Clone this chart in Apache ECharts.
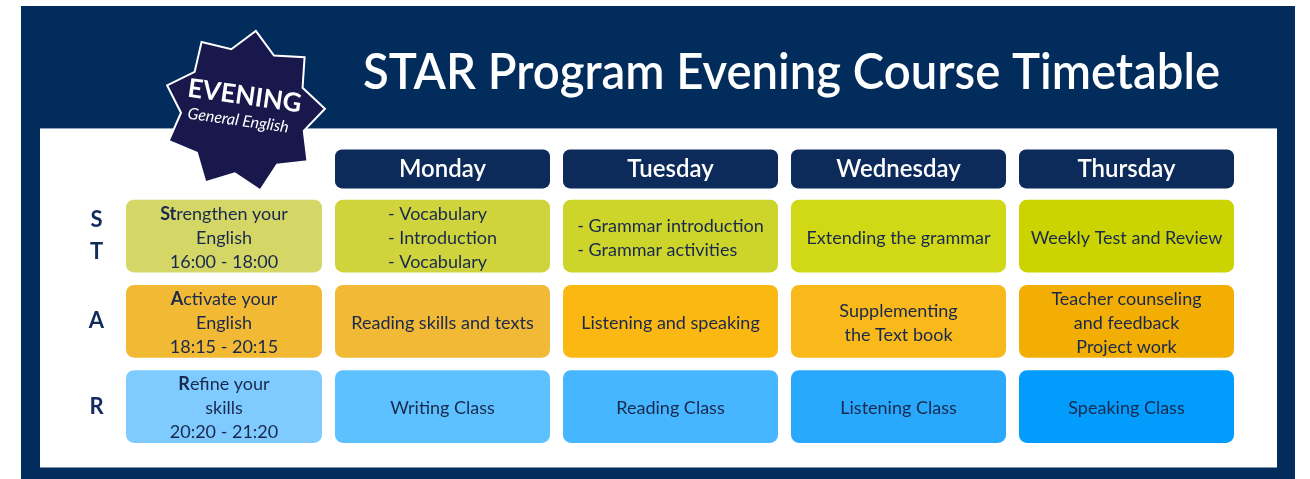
<!DOCTYPE html>
<html><head><meta charset="utf-8">
<script src="https://cdn.jsdelivr.net/npm/echarts@6/dist/echarts.min.js"></script>
<style>html,body{margin:0;padding:0;background:#fff}#c{width:1310px;height:479px}</style>
</head><body><div id="c"></div>
<script>
// ---------- content ----------
const title = 'STAR Program Evening Course Timetable';
const badgeTitle = 'EVENING';
const badgeSub = 'General English';
const columns = ['', 'Monday', 'Tuesday', 'Wednesday', 'Thursday'];
const rowLetters = ['S\nT', 'A', 'R'];
const sessionBold = ['St', 'A', 'R'];
const sessionRest = ['rengthen your\nEnglish\n16:00 - 18:00', 'ctivate your\nEnglish\n18:15 - 20:15', 'efine your\nskills\n20:20 - 21:20'];
const strengthenTopics = ['- Vocabulary\n- Introduction\n- Vocabulary', '- Grammar introduction\n- Grammar activities', 'Extending the grammar', 'Weekly Test and Review'];
const activateTopics = ['Reading skills and texts', 'Listening and speaking', 'Supplementing\nthe Text book', 'Teacher counseling\nand feedback\nProject work'];
const refineTopics = ['Writing Class', 'Reading Class', 'Listening Class', 'Speaking Class'];

// ---------- styles ----------
const sessionColors = ['#d4d766', '#f2b935', '#7fcbff'];
const cellColors = [
  ['#cfd43c', '#cdd42a', '#d1d916', '#cbd300'],
  ['#f1b935', '#fcb812', '#f9b91a', '#f3ae04'],
  ['#5dc0ff', '#45b6ff', '#28a9fd', '#029dfc']
];
const navy = '#022c5b';
const headNavy = '#0c2a5a';
const textNavy = '#19294d';
const FONT = 'Lato';
const FS = 18;

const topics = [strengthenTopics, activateTopics, refineTopics];
const cells = [];
for (let r = 0; r < rowLetters.length; r++) {
  cells.push({ value: [0, r], text: '{b|' + sessionBold[r] + '}' + sessionRest[r], fill: sessionColors[r], rich: true });
  for (let c = 0; c < topics[r].length; c++) {
    cells.push({ value: [c + 1, r], text: topics[r][c], fill: cellColors[r][c], rich: false });
  }
}

const mcv = document.createElement('canvas').getContext('2d');
function textWidth(t, size) {
  mcv.font = size + 'px ' + FONT;
  return Math.max.apply(null, t.split('\n').map(l => mcv.measureText(l).width));
}

const chart = echarts.init(document.getElementById('c'), null, { renderer: 'canvas' });

// star polygon (decoration)
const sc = [244, 111], R1 = 81, R2 = 63, rot0 = -81.6 * Math.PI / 180;
const starPts = [];
for (let i = 0; i < 18; i++) {
  const a = rot0 + i * Math.PI / 9;
  const rr = i % 2 === 0 ? R1 : R2;
  starPts.push([sc[0] + rr * Math.cos(a), sc[1] + rr * Math.sin(a)]);
}

mcv.font = '600 50px ' + FONT;
const titleW = mcv.measureText(title).width;

chart.setOption({
  animation: false,
  graphic: [
    { type: 'rect', z: 0, shape: { x: 21, y: 6, width: 1274, height: 473 }, style: { fill: navy } },
    { type: 'rect', z: 0, shape: { x: 40, y: 128, width: 1237, height: 339.5 }, style: { fill: '#ffffff' } },
    { type: 'rect', z: 0, shape: { x: 40, y: 128, width: 1237, height: 1 }, style: { fill: '#8ea3bf' } },
    { type: 'text', z: 5, x: 791.5, y: 73, scaleX: 857 / titleW, style: { text: title, fill: '#fff', font: '600 50px ' + FONT, align: 'center', verticalAlign: 'middle' } },
    { type: 'polygon', z: 10, shape: { points: starPts }, style: { fill: '#19184c', stroke: '#ffffff', lineWidth: 2 } },
    { type: 'group', z: 11, x: 243, y: 108, rotation: -0.14, children: [
      { type: 'text', z: 11, x: 0, y: -12, style: { text: badgeTitle, fill: '#fff', font: 'bold 26px ' + FONT, align: 'center', verticalAlign: 'middle' } },
      { type: 'text', z: 11, x: -3, y: 13, style: { text: badgeSub, fill: '#fff', font: 'italic 16px ' + FONT, align: 'center', verticalAlign: 'middle' } }
    ] }
  ],
  grid: { left: 100.5, right: 69.5, top: 193.375, bottom: 29.875 },
  xAxis: {
    type: 'category', position: 'top', data: columns,
    axisLine: { show: false }, axisTick: { show: false },
    axisLabel: {
      interval: 0, margin: 5,
      formatter: v => v ? '{h|' + v + '}' : '',
      rich: { h: { width: 215, height: 39, lineHeight: 39, backgroundColor: headNavy, borderRadius: 7, color: '#fff', fontSize: 24, fontWeight: 600, fontFamily: FONT, align: 'center' } }
    }
  },
  yAxis: {
    type: 'category', inverse: true, data: rowLetters,
    axisLine: { show: false }, axisTick: { show: false }, splitLine: { show: false },
    axisLabel: { margin: 4, align: 'center', color: '#112b5b', fontSize: 22, fontWeight: 'bold', fontFamily: FONT, lineHeight: 32, padding: [6, 0, 0, 0] }
  },
  series: [{
    type: 'custom',
    data: cells.map(d => d.value),
    renderItem: (params, api) => {
      const d = cells[params.dataIndex];
      const ci = api.value(0), ri = api.value(1);
      const p = api.coord([ci, ri]);
      const s = api.size([1, 1]);
      let w, x;
      if (ci === 0) { w = 196; x = p[0] + s[0] / 2 - 6.5 - w; }
      else { w = s[0] - 13; x = p[0] - w / 2; }
      const h = s[1] - 12.5, y = p[1] - h / 2;
      const cx = x + w / 2;
      let tx = cx, align = 'center';
      if (!d.rich && d.text.indexOf('- ') === 0) {
        tx = cx - textWidth(d.text, FS) / 2; align = 'left';
      }
      return {
        type: 'group',
        children: [
          { type: 'rect', shape: { x: x, y: y, width: w, height: h, r: 8 }, style: { fill: d.fill } },
          { type: 'text', style: {
              text: d.text, x: tx, y: p[1] + 2, align: align, verticalAlign: 'middle',
              fill: textNavy, fontSize: FS, fontFamily: FONT, lineHeight: 24,
              rich: { b: { fontWeight: 'bold', fontSize: FS, fontFamily: FONT, fill: textNavy, lineHeight: 24 } }
          } }
        ]
      };
    }
  }]
});
</script>
</body></html>
